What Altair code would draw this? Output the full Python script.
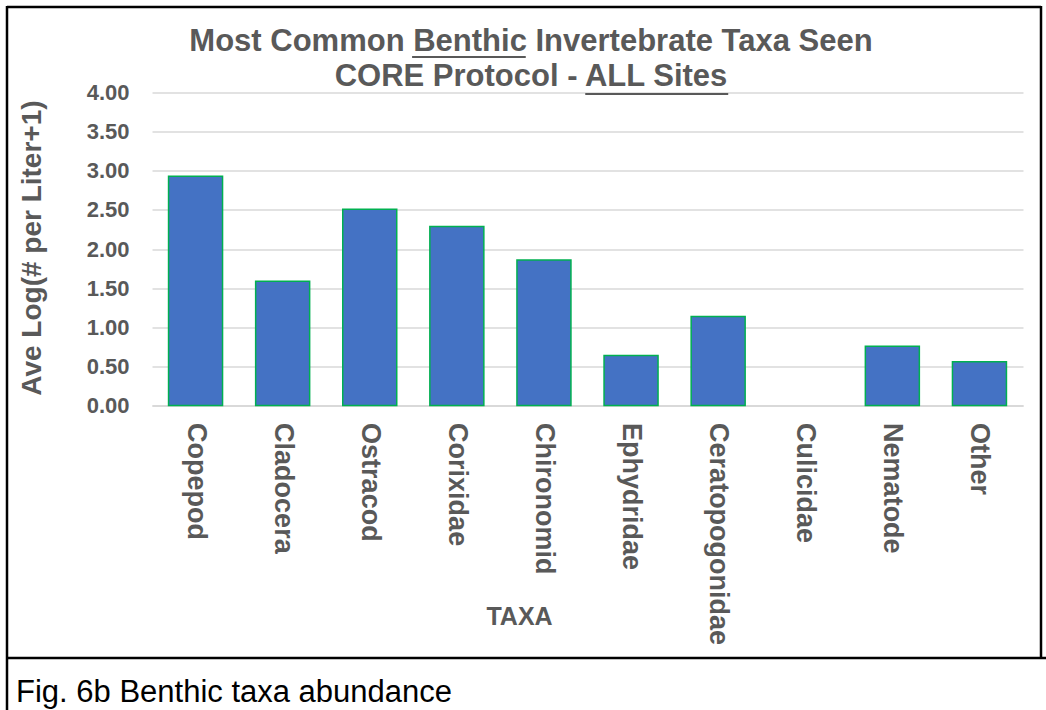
import altair as alt
import pandas as pd

# ---- data ----
taxa = ["Copepod", "Cladocera", "Ostracod", "Corixidae", "Chironomid",
        "Ephydridae", "Ceratopogonidae", "Culicidae", "Nematode", "Other"]
values = [2.93, 1.59, 2.51, 2.29, 1.86, 0.64, 1.14, 0.0, 0.76, 0.56]
y_ticks = [0.0, 0.5, 1.0, 1.5, 2.0, 2.5, 3.0, 3.5, 4.0]

TITLE1 = "Most Common Benthic Invertebrate Taxa Seen"
TITLE2 = "CORE Protocol - ALL Sites"
CAPTION = "Fig. 6b Benthic taxa abundance"
Y_TITLE = "Ave Log(# per Liter+1)"
X_TITLE = "TAXA"

df = pd.DataFrame({"taxon": taxa, "value": values})

# ---- layout (pixels in the 1046x710 page) ----
OX, OY = 152, 92.6          # plot-area origin
W, H = 871, 313
FONT = "Liberation Sans"
GREY = "#595959"
TSIZE = 31

def px(x):
    return x - OX

def py(y):
    return y - OY

# Arial / Liberation Sans Bold advance widths (per 1000 em) for underline placement
BOLD_W = {
    " ": 278, "-": 333, "A": 722, "B": 722, "C": 722, "E": 667, "I": 278, "L": 611,
    "M": 833, "O": 778, "P": 667, "R": 722, "S": 667, "T": 611,
    "a": 556, "b": 611, "c": 556, "e": 556, "h": 611, "i": 278, "l": 278, "m": 889,
    "n": 611, "o": 611, "r": 389, "s": 556, "t": 333, "v": 556, "x": 556,
}

def tw(s):
    return sum(BOLD_W.get(c, 556) for c in s) / 1000.0 * TSIZE

CX = 531
def span(line, word):
    start = CX - tw(line) / 2
    i = line.index(word)
    a = start + tw(line[:i])
    return a, a + tw(word)

u1 = span(TITLE1, "Benthic")
u2 = span(TITLE2, "ALL Sites")

one = alt.Data(values=[{"k": 0}])

bars = alt.Chart(df).mark_bar(
    color="#4472C4", stroke="#00B050", strokeWidth=1.5
).encode(
    x=alt.X("taxon:N", sort=taxa,
            scale=alt.Scale(paddingInner=0.38, paddingOuter=0.19),
            axis=alt.Axis(
                title=X_TITLE, labelAngle=90, labelAlign="left", labelBaseline="middle",
                labelPadding=17, labelFont=FONT, labelFontSize=27, labelFontWeight="bold",
                labelColor=GREY, labelLimit=400, ticks=False,
                domainColor="#d9d9d9", domainWidth=2,
                titleFont=FONT, titleFontSize=25, titleFontWeight="bold", titleColor=GREY,
                titleX=367, titleY=211, titleAlign="center", titleBaseline="middle")),
    y=alt.Y("value:Q",
            scale=alt.Scale(domain=[0, 4], nice=False),
            axis=alt.Axis(
                title=Y_TITLE, values=y_ticks, format=".2f", grid=True,
                gridColor="#d9d9d9", gridWidth=1.5, domain=False, ticks=False,
                labelFont=FONT, labelFontSize=22, labelFontWeight="bold",
                labelColor=GREY, labelPadding=23,
                titleFont=FONT, titleFontSize=28, titleFontWeight="bold", titleColor=GREY,
                titleX=-120, titleY=155, titleAlign="center", titleBaseline="middle")),
    strokeOpacity=alt.condition(alt.datum.value > 0, alt.value(1), alt.value(0)),
)

def text_layer(txt, x, y, size, weight, color, align):
    return alt.Chart(alt.Data(values=[{"t": txt}])).mark_text(
        font=FONT, fontSize=size, fontWeight=weight, color=color,
        align=align, baseline="alphabetic"
    ).encode(x=alt.value(px(x)), y=alt.value(py(y)), text="t:N")

def hrule(x1, x2, y, color="black", w=2.5):
    return alt.Chart(one).mark_rule(color=color, strokeWidth=w).encode(
        x=alt.value(px(x1)), x2=alt.value(px(x2)), y=alt.value(py(y)))

def vrule(x, y1, y2, color="black", w=2.5):
    return alt.Chart(one).mark_rule(color=color, strokeWidth=w).encode(
        x=alt.value(px(x)), y=alt.value(py(y1)), y2=alt.value(py(y2)))

layers = [
    bars,
    text_layer(TITLE1, CX, 51, TSIZE, "bold", GREY, "center"),
    text_layer(TITLE2, CX, 86, TSIZE, "bold", GREY, "center"),
    hrule(u1[0], u1[1], 57, GREY, 2),
    hrule(u2[0], u2[1], 94, GREY, 2),
    text_layer(CAPTION, 16, 702, 31, "normal", "black", "left"),
    hrule(7, 1041, 7),
    vrule(7, 6, 712),
    vrule(1041, 6, 658),
    hrule(6, 1048, 658),
]

chart = alt.layer(*layers).properties(
    width=W, height=H,
    autosize=alt.AutoSizeParams(type="none"),
    padding={"left": OX, "top": OY, "right": 1046 - OX - W, "bottom": 710 - OY - H},
    background="white",
).configure_view(strokeWidth=0)

chart.save("out.html", embed_options={"renderer": "svg", "actions": False})
